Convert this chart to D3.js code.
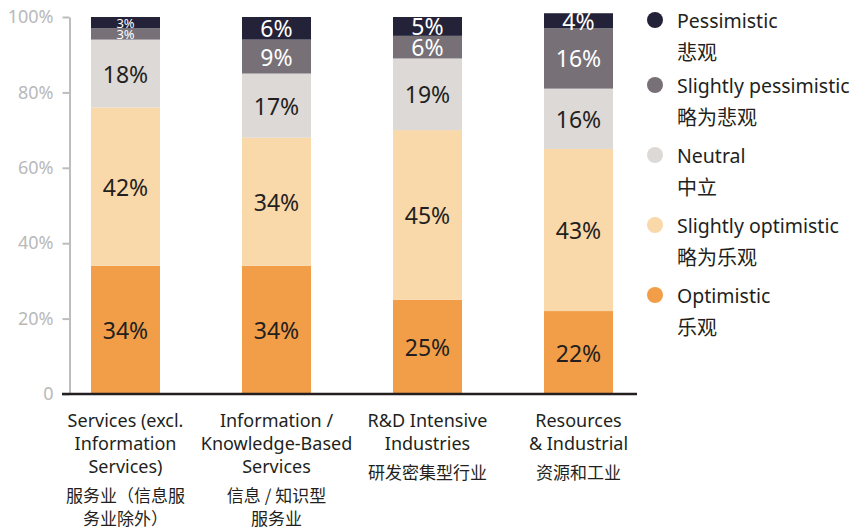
<!DOCTYPE html>
<html>
<head>
<meta charset="utf-8">
<script src="https://cdn.jsdelivr.net/npm/d3@7"></script>
<style>
  html, body { margin: 0; padding: 0; background: #ffffff; }
  svg { display: block; }
  text { font-family: "Noto Sans", "Noto Sans CJK SC", sans-serif; }
  .zh { font-family: "Noto Sans CJK SC", "Noto Sans", sans-serif; }
</style>
</head>
<body>
<svg id="chart" width="853" height="529"></svg>
<script>
// Sector categories (English lines and Chinese lines)
const categoryKeys = ["services", "info", "rnd", "resources"];
const categoryEn = [
  ["Services (excl.", "Information", "Services)"],
  ["Information /", "Knowledge-Based", "Services"],
  ["R&D Intensive", "Industries"],
  ["Resources", "& Industrial"]
];
const categoryZh = [
  ["服务业（信息服", "务业除外）"],
  ["信息 / 知识型", "服务业"],
  ["研发密集型行业"],
  ["资源和工业"]
];

// Sentiment series, in stacking order from the baseline up (%)
const optimistic          = [34, 34, 25, 22];
const slightlyOptimistic  = [42, 34, 45, 43];
const neutral             = [18, 17, 19, 16];
const slightlyPessimistic = [3, 9, 6, 16];
const pessimistic         = [3, 6, 5, 4];

const seriesKeys = ["optimistic", "slightlyOptimistic", "neutral", "slightlyPessimistic", "pessimistic"];
const seriesEn = ["Optimistic", "Slightly optimistic", "Neutral", "Slightly pessimistic", "Pessimistic"];
const seriesZh = ["乐观", "略为乐观", "中立", "略为悲观", "悲观"];
const seriesColors = ["#f29e48", "#f9d8aa", "#ddd9d6", "#777077", "#242238"];
const seriesLabelColors = ["#231f20", "#231f20", "#231f20", "#ffffff", "#ffffff"];

const yTicks = [0, 20, 40, 60, 80, 100];

// Build row table for d3.stack
const seriesValues = [optimistic, slightlyOptimistic, neutral, slightlyPessimistic, pessimistic];
const rows = categoryKeys.map((c, i) => {
  const r = { key: c };
  seriesKeys.forEach((k, j) => { r[k] = seriesValues[j][i]; });
  return r;
});

const svg = d3.select("#chart");

const y = d3.scaleLinear().domain([0, 100]).range([394, 17]);
const x = d3.scaleBand()
  .domain(categoryKeys)
  .range([15.5, 688.5])
  .paddingInner(0.543)
  .paddingOuter(0.5);

const stacked = d3.stack().keys(seriesKeys)(rows);

// Bars
const layers = svg.append("g").selectAll("g")
  .data(stacked)
  .join("g")
  .attr("fill", (d, i) => seriesColors[i]);

layers.selectAll("rect")
  .data(d => d)
  .join("rect")
  .attr("x", d => x(d.data.key))
  .attr("width", x.bandwidth())
  .attr("y", d => y(d[1]))
  .attr("height", d => y(d[0]) - y(d[1]));

// Value labels inside each segment
stacked.forEach((layer, si) => {
  svg.append("g").selectAll("text")
    .data(layer)
    .join("text")
    .attr("x", d => x(d.data.key) + x.bandwidth() / 2)
    .attr("y", d => (y(d[0]) + y(d[1])) / 2)
    .attr("text-anchor", "middle")
    .attr("dominant-baseline", "central")
    .attr("fill", seriesLabelColors[si])
    .style("font-size", d => (d[1] - d[0]) <= 3 ? "13px" : "23px")
    .text(d => (d[1] - d[0]) + "%");
});

// Y axis
const yAxis = d3.axisLeft(y)
  .tickValues(yTicks)
  .tickSize(7)
  .tickSizeOuter(0)
  .tickPadding(9)
  .tickFormat(d => d === 0 ? "0" : d + "%");

const gy = svg.append("g")
  .attr("transform", "translate(69.5,0)")
  .call(yAxis);
gy.select(".domain").attr("stroke", "#bdbdbd").attr("stroke-width", 2);
gy.selectAll(".tick line").attr("stroke", "#bdbdbd").attr("stroke-width", 2);
gy.selectAll(".tick text")
  .attr("fill", "#b9b9b9")
  .style("font-size", "18px")
  .style("font-family", "'Noto Sans', sans-serif");

// Baseline
svg.append("line")
  .attr("x1", 62).attr("x2", 637)
  .attr("y1", y(0)).attr("y2", y(0))
  .attr("stroke", "#231f20")
  .attr("stroke-width", 2.5);

// Category labels
categoryKeys.forEach((c, i) => {
  const cx = x(c) + x.bandwidth() / 2;
  const g = svg.append("g");
  const en = categoryEn[i];
  en.forEach((line, li) => {
    g.append("text")
      .attr("x", cx)
      .attr("y", 420 + li * 23)
      .attr("text-anchor", "middle")
      .attr("dominant-baseline", "central")
      .attr("fill", "#231f20")
      .style("font-size", "18px")
      .text(line);
  });
  const zhTop = 420 + (en.length - 1) * 23 + 28;
  categoryZh[i].forEach((line, li) => {
    g.append("text")
      .attr("class", "zh")
      .attr("x", cx)
      .attr("y", zhTop + li * 23.5)
      .attr("text-anchor", "middle")
      .attr("dominant-baseline", "central")
      .attr("fill", "#231f20")
      .style("font-size", "17px")
      .text(line);
  });
});

// Legend (pessimistic at top)
const legendOrder = [4, 3, 2, 1, 0];
const legend = svg.append("g");
legendOrder.forEach((si, k) => {
  const ly = k === 0 ? 20 : 15 + 70 * k;
  legend.append("circle")
    .attr("cx", 655)
    .attr("cy", ly)
    .attr("r", 8)
    .attr("fill", seriesColors[si]);
  legend.append("text")
    .attr("x", 677)
    .attr("y", ly)
    .attr("dominant-baseline", "central")
    .attr("fill", "#231f20")
    .style("font-size", "19.5px")
    .text(seriesEn[si]);
  legend.append("text")
    .attr("class", "zh")
    .attr("x", 677)
    .attr("y", ly + 31)
    .attr("dominant-baseline", "central")
    .attr("fill", "#231f20")
    .style("font-size", "20px")
    .text(seriesZh[si]);
});
</script>
</body>
</html>
